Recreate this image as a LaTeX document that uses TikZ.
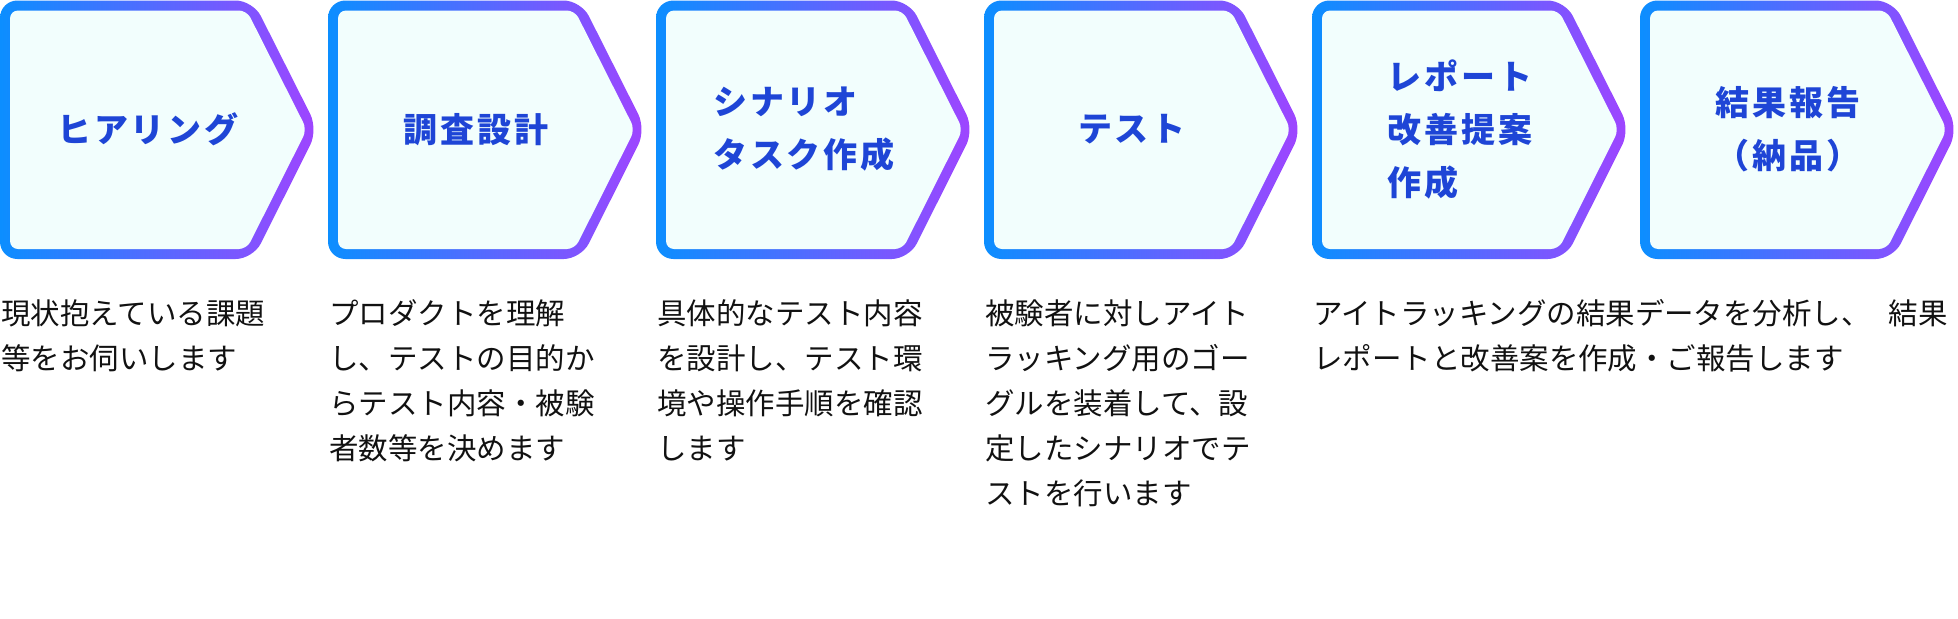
\documentclass[tikz,border=0pt]{standalone}
\usepackage{fontspec}
\setmainfont{Noto Sans CJK JP}
\newfontfamily\titlefont{Noto Sans CJK JP}[LetterSpace=8]
\definecolor{cblue}{RGB}{12,142,255}
\definecolor{cpurple}{RGB}{160,68,255}
\definecolor{boxfill}{RGB}{242,254,253}
\definecolor{titleblue}{RGB}{30,69,214}
\definecolor{bodytext}{RGB}{17,17,17}
\tikzset{
  chev/.pic={
    \shade[left color=cblue, right color=cpurple, rounded corners=13pt]
      (0,0.5) -- (253,0.5) -- (318,129.5) -- (253,259) -- (0,259) -- cycle;
    \fill[boxfill, rounded corners=6pt]
      (10,10.5) -- (246.8,10.5) -- (306.8,129.5) -- (246.8,249) -- (10,249) -- cycle;
  },
  title/.style={text=titleblue, inner sep=0pt, align=#1,
    font=\titlefont\bfseries\fontsize{25.5pt}{39.75pt}\selectfont},
  title/.default=center,
  body/.style={text=bodytext, inner sep=0pt, align=left, anchor=base west,
    font=\fontsize{22.1pt}{33.75pt}\selectfont},
}
\begin{document}
\begin{tikzpicture}[x=0.75pt, y=-0.75pt]
\useasboundingbox (0,0) rectangle (1958,618);
\foreach \i in {0,...,5} { \pic at (328*\i,0) {chev}; }
\node[title] (t1) at (148,129.5) {ヒアリング};
\node[title] (t2) at (476,129.5) {調査設計};
\node[title=left] (t3) at (804,129.5) {シナリオ\\タスク作成};
\node[title] (t4) at (1132,129.5) {テスト};
\node[title=left] (t5) at (1460,129.5) {レポート\\改善提案\\作成};
\node[title] (t6) at (1788,129.5) {結果報告\\（納品）};
% base anchor = baseline of the last line; first baseline at y=324, line pitch 45
\node[body] (d1) at (1,369) {現状抱えている課題\\等をお伺いします};
\node[body] (d2) at (329,459) {プロダクトを理解\\し、テストの目的か\\らテスト内容・被験\\者数等を決めます};
\node[body] (d3) at (657,459) {具体的なテスト内容\\を設計し、テスト環\\境や操作手順を確認\\します};
\node[body] (d4) at (985,504) {被験者に対しアイト\\ラッキング用のゴー\\グルを装着して、設\\定したシナリオでテ\\ストを行います};
\node[body] (d5) at (1313,369) {アイトラッキングの結果データを分析し、\hspace{13.5pt}結果\\レポートと改善案を作成・ご報告します};
\end{tikzpicture}
\end{document}
